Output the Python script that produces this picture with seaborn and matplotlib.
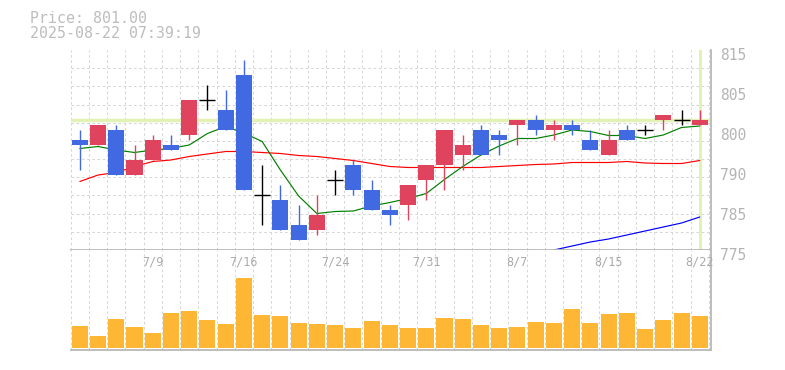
import numpy as np
import pandas as pd
import matplotlib
matplotlib.use("Agg")
import matplotlib.pyplot as plt
import matplotlib.transforms as mtransforms
import seaborn as sns

# ---------------- data ----------------
dates = ["7/3", "7/4", "7/7", "7/8", "7/9", "7/10", "7/11", "7/14", "7/15", "7/16",
         "7/17", "7/18", "7/22", "7/23", "7/24", "7/25", "7/28", "7/29", "7/30", "7/31",
         "8/1", "8/4", "8/5", "8/6", "8/7", "8/8", "8/12", "8/13", "8/14", "8/15",
         "8/18", "8/19", "8/20", "8/21", "8/22"]
opens = [797, 796, 799, 790, 793, 796, 798, 805, 803, 810,
         786, 785, 780, 779, 789, 792, 787, 783, 784, 789,
         792, 794, 799, 798, 800, 801, 799, 800, 797, 794,
         799, 799, 801, 801, 800]
highs = [799, 800, 800, 796, 798, 798, 805, 808, 807, 813,
         792, 788, 784, 786, 791, 793, 789, 784, 788, 792,
         799, 798, 800, 799, 801, 802, 801, 801, 799, 799,
         800, 800, 802, 803, 803]
lows = [791, 796, 790, 790, 793, 795, 797, 803, 799, 787,
        780, 779, 777, 778, 786, 786, 783, 780, 781, 785,
        787, 791, 794, 794, 796, 798, 797, 798, 795, 794,
        797, 798, 799, 800, 800]
closes = [796, 800, 790, 793, 797, 795, 805, 805, 799, 787,
          786, 779, 777, 782, 789, 787, 783, 782, 788, 792,
          799, 796, 794, 797, 801, 799, 800, 799, 795, 797,
          797, 799, 802, 801, 801]
volume = [66, 36, 90, 63, 45, 108, 114, 87, 75, 213,
          102, 99, 78, 75, 69, 60, 84, 69, 60, 60,
          93, 90, 72, 60, 63, 81, 78, 120, 78, 105,
          108, 57, 87, 108, 99]
ma_short = [795.3, 795.7, 795.0, 794.5, 795.0, 795.3, 796.0, 798.3, 799.7, 798.4,
            796.7, 791.0, 785.8, 782.3, 782.7, 782.8, 783.8, 784.5, 785.3, 786.3,
            789.1, 791.7, 794.0, 795.8, 797.3, 797.3, 798.0, 799.0, 798.7, 797.9,
            797.9, 797.3, 798.0, 799.5, 799.8]
ma_mid = [788.7, 790.0, 790.5, 791.7, 792.7, 793.0, 793.7, 794.2, 794.7, 794.7,
          794.5, 794.3, 793.9, 793.7, 793.3, 792.9, 792.3, 791.7, 791.5, 791.5,
          791.5, 791.5, 791.5, 791.7, 791.9, 792.1, 792.2, 792.5, 792.5, 792.5,
          792.7, 792.4, 792.3, 792.3, 792.9]
ma_long = [np.nan] * 26 + [775.0, 775.8, 776.6, 777.2, 778.0, 778.8, 779.6, 780.4, 781.6]
date_labels = ["7/9", "7/16", "7/24", "7/31", "8/7", "8/15", "8/22"]
price_ticks = [815, 807, 799, 791, 783, 775]
price_tick_labels = ["815", "805", "800", "790", "785", "775"]
last_price = 801.00
timestamp = "2025-08-22 07:39:19"

# ---------------- style ----------------
sns.set_theme(style="white")
plt.rcParams["font.family"] = ["DejaVu Sans Mono", "DejaVu Sans"]

UP = "#e0435e"
DOWN = "#4169e1"
VOL = "#fdb734"
HL = "#e2f1b4"
GRID = "#d6d6d6"
SPINE = "#b8b8b8"

n = len(dates)
idx = np.arange(n)
df = pd.DataFrame({"i": idx, "open": opens, "high": highs, "low": lows, "close": closes,
                   "volume": volume, "ma_short": ma_short, "ma_mid": ma_mid, "ma_long": ma_long})

W, H = 785, 370
fig = plt.figure(figsize=(W / 100, H / 100), dpi=100)
ax = fig.add_axes([70.7 / W, 120 / H, 640 / W, 200 / H])
axv = fig.add_axes([70.7 / W, 20 / H, 640 / W, 100 / H])

# ---------------- price panel ----------------
grid_y = [815 - k * 40 / 11 for k in range(12)]
grid_x = [k - 0.5 for k in range(n + 1)]

ax.axhline(last_price, color=HL, lw=2.5, zorder=1)
ax.axvline(idx[-1], color=HL, lw=2.2, zorder=1)

sns.lineplot(data=df, x="i", y="ma_long", ax=ax, color="#0000ff", lw=0.85, zorder=2)
sns.lineplot(data=df, x="i", y="ma_mid", ax=ax, color="#ff0000", lw=0.85, zorder=2)
sns.lineplot(data=df, x="i", y="ma_short", ax=ax, color="#008000", lw=0.85, zorder=2)

o = df["open"].to_numpy(float)
c = df["close"].to_numpy(float)
colors = np.where(c > o, UP, np.where(c < o, DOWN, "#000000"))
ax.vlines(idx, df["low"], df["high"], colors=colors, lw=1.0, zorder=3)
body = c != o
ax.bar(idx[body], np.abs(c - o)[body], bottom=np.minimum(o, c)[body], width=0.88,
       color=colors[body], lw=0, zorder=4)
doji = ~body
ax.hlines(o[doji], idx[doji] - 0.44, idx[doji] + 0.44, colors="#000000", lw=1.0, zorder=4)

ax.set_xlim(-0.5, n - 0.4)
ax.set_ylim(775, 815)
ax.set_xticks([])
ax.set_xticks(grid_x, minor=True)
ax.yaxis.tick_right()
ax.set_yticks(price_ticks, labels=price_tick_labels)
ax.set_yticks(grid_y, minor=True)
ax.tick_params(which="both", length=0, labelbottom=False)
ax.tick_params(axis="y", which="major", pad=7, labelsize=10.5, labelcolor="#b4b4b4")
off = mtransforms.ScaledTranslation(0, -3.5 / 100, fig.dpi_scale_trans)
for lab in ax.get_yticklabels():
    lab.set_transform(lab.get_transform() + off)
ax.grid(False, which="major")
ax.grid(True, which="minor", color=GRID, lw=0.75, ls=(0, (2.5, 2.5)))
ax.set_axisbelow(True)
ax.set_xlabel("")
ax.set_ylabel("")
for s in ["top", "left"]:
    ax.spines[s].set_visible(False)
for s in ["right", "bottom"]:
    ax.spines[s].set_color(SPINE)
    ax.spines[s].set_linewidth(1.3)

# ---------------- volume panel ----------------
sns.barplot(data=df, x="i", y="volume", ax=axv, color=VOL, saturation=1,
            width=0.88, linewidth=0, native_scale=True, zorder=2)
axv.set_xlim(-0.5, n - 0.4)
axv.set_ylim(-6, 300)
axv.set_xticks([])
axv.set_xticks(grid_x, minor=True)
axv.set_yticks([])
axv.tick_params(which="both", length=0)
axv.grid(False, which="major")
axv.xaxis.grid(True, which="minor", color=GRID, lw=0.75, ls=(0, (2.5, 2.5)))
axv.set_axisbelow(True)
axv.set_xlabel("")
axv.set_ylabel("")
for s in ["top", "left"]:
    axv.spines[s].set_visible(False)
for s in ["right", "bottom"]:
    axv.spines[s].set_color(SPINE)
    axv.spines[s].set_linewidth(1.3)

trans = mtransforms.blended_transform_factory(axv.transData, axv.transAxes)
for lbl in date_labels:
    axv.text(dates.index(lbl), 0.88, lbl, transform=trans, ha="center", va="center",
             fontsize=8.5, color="#aaaaaa", zorder=5)

# ---------------- header ----------------
fig.text(30 / W, 1 - 23.3 / H, f"Price: {last_price:.2f}", ha="left", va="baseline",
         fontsize=10.7, color="#bdbdbd")
fig.text(30 / W, 1 - 38.3 / H, timestamp, ha="left", va="baseline",
         fontsize=10.7, color="#bdbdbd")

fig.savefig("out.png", dpi=100, facecolor="white")
